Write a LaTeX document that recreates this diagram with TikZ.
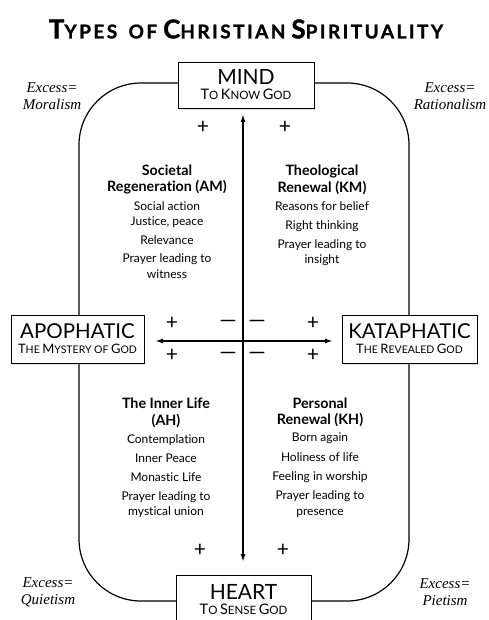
\documentclass[tikz,border=0pt]{standalone}
\usepackage{fontspec}
\setmainfont{Lato}[Ligatures=NoCommon]
\newfontfamily\itfam{Liberation Serif}
\newfontfamily\titlefam[LetterSpace=13,WordSpace=1.6,Ligatures=NoCommon,BoldFeatures={FakeBold=1.3}]{Lato}
\usetikzlibrary{arrows.meta,shadows}
\newcommand\scBig[1]{{\fontsize{13}{14}\selectfont #1}}
\newcommand\scSml[1]{{\fontsize{10.5}{14}\selectfont #1}}
\newcommand\pBig[1]{{\fontsize{14.5}{14}\selectfont #1}}
\newcommand\pSml[1]{{\fontsize{11.5}{14}\selectfont #1}}
\newcommand\ttBig[1]{{\fontsize{26}{26}\selectfont #1}}
\newcommand\ttSml[1]{{\fontsize{19}{26}\selectfont #1}}
\newcommand\qHead[1]{{\fontsize{14.3}{16}\selectfont\bfseries #1}}
\tikzset{
  pole/.style={draw, fill=white, line width=0.8pt, minimum width=135pt, minimum height=47pt,
     align=center, inner sep=0pt, drop shadow={shadow xshift=0.6pt, shadow yshift=-2pt, opacity=0.25}},
  quad/.style={align=center, anchor=north, inner sep=0pt, font=\fontsize{12}{16}\selectfont},
  excess/.style={align=center, font=\itfam\itshape\fontsize{15}{17}\selectfont, inner sep=0pt},
  sign/.style={inner sep=0pt, font=\fontsize{21}{21}\selectfont},
  minus/.style={inner sep=0pt, font=\fontsize{22}{22}\selectfont},
  axis/.style={line width=1.8pt, {Latex[length=8pt,width=5pt]}-{Latex[length=8pt,width=5pt]}},
}
\begin{document}
\begin{tikzpicture}[x=1pt,y=-1pt]
\useasboundingbox (0,0) rectangle (488,620);
% title
\node[inner sep=0pt, font=\titlefam\bfseries] (title) at (246,29)
  {\ttBig{T}\ttSml{YPES OF} \ttBig{C}\ttSml{HRISTIAN} \ttBig{S}\ttSml{PIRITUALITY}};
% rounded frame
\draw[line width=1.2pt, rounded corners=62pt] (79,83) rectangle (409,601);
% pole boxes
\node[pole, minimum width=136pt, minimum height=46pt] (mind) at (246,85)
  {{\fontsize{21}{22}\selectfont MIND}\\[3pt]\pBig{T}\pSml{O} \pBig{K}\pSml{NOW} \pBig{G}\pSml{OD}};
\node[pole, minimum width=135pt, minimum height=50pt] (heart) at (243.5,600)
  {{\fontsize{21}{22}\selectfont HEART}\\[3pt]\pBig{T}\pSml{O} \pBig{S}\pSml{ENSE} \pBig{G}\pSml{OD}};
\node[pole, minimum width=133pt, minimum height=48pt] (apo) at (77.5,339)
  {{\fontsize{20.5}{22}\selectfont APOPHATIC}\\[3pt]\scBig{T}\scSml{HE} \scBig{M}\scSml{YSTERY} \scSml{OF} \scBig{G}\scSml{OD}};
\node[pole, minimum width=135pt, minimum height=48pt] (kata) at (409.5,339)
  {{\fontsize{20.5}{22}\selectfont KATAPHATIC}\\[3pt]\scBig{T}\scSml{HE} \scBig{R}\scSml{EVEALED} \scBig{G}\scSml{OD}};
% axes
\coordinate (vt) at (243,114);
\coordinate (vb) at (243,562);
\coordinate (hl) at (155,341);
\coordinate (hr) at (333,341);
\draw[axis] (vt) -- (vb);
\draw[axis] (hl) -- (hr);
% signs
\node[sign] (p1) at (203,127) {+};
\node[sign] (p2) at (285,127) {+};
\node[sign] (p3) at (172,323) {+};
\node[sign] (p4) at (172,355) {+};
\node[sign] (p5) at (313,323) {+};
\node[sign] (p6) at (313,355) {+};
\node[sign] (p7) at (200,550) {+};
\node[sign] (p8) at (283,550) {+};
\node[minus] (m1) at (228,324) {—};
\node[minus] (m2) at (228,356) {—};
\node[minus] (m3) at (257,324) {—};
\node[minus] (m4) at (257,356) {—};
% excess labels
\node[excess] (ex1) at (52,96) {Excess=\\Moralism};
\node[excess] (ex2) at (450,96) {Excess=\\Rationalism};
\node[excess] (ex3) at (48,592) {Excess=\\Quietism};
\node[excess] (ex4) at (445,592) {Excess=\\Pietism};
% quadrants
\node[quad] (am) at (167,165)
  {\qHead{Societal}\\\qHead{Regeneration (AM)}\\[3pt]Social action\\[-1pt]Justice, peace\\[3pt]Relevance\\[2pt]Prayer leading to\\witness};
\node[quad] (km) at (322,165)
  {\qHead{Theological}\\[1pt]\qHead{Renewal (KM)}\\[2pt]Reasons for belief\\[3pt]Right thinking\\[3pt]Prayer leading to\\[-1pt]insight};
\node[quad] (ah) at (166,398)
  {\qHead{The Inner Life}\\[1pt]\qHead{(AH)}\\[2pt]Contemplation\\[3pt]Inner Peace\\[3pt]Monastic Life\\[3pt]Prayer leading to\\[-1pt]mystical union};
\node[quad] (kh) at (320,398)
  {\qHead{Personal}\\\qHead{Renewal (KH)}\\[1pt]Born again\\[4pt]Holiness of life\\[3pt]Feeling in worship\\[3pt]Prayer leading to\\presence};
\end{tikzpicture}
\end{document}
